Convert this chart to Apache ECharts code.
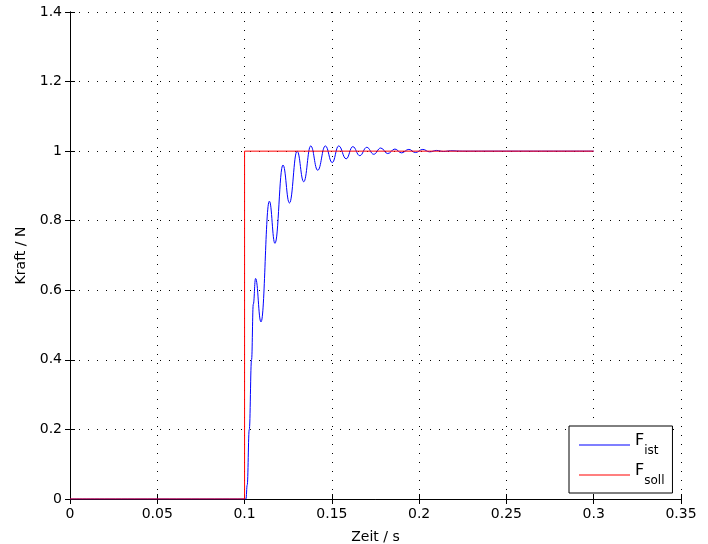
<!DOCTYPE html>
<html>
<head>
<meta charset="utf-8">
<script src="https://cdn.jsdelivr.net/npm/echarts@6/dist/echarts.min.js"></script>
<style>
  html, body { margin: 0; padding: 0; background: #fff; }
  #chart { width: 708px; height: 544px; }
</style>
</head>
<body>
<div id="chart"></div>
<script>
// Step response of the force controller: measured force vs. setpoint
var xTicks = [0, 0.05, 0.1, 0.15, 0.2, 0.25, 0.3, 0.35];
var yTicks = [0, 0.2, 0.4, 0.6, 0.8, 1, 1.2, 1.4];

// F_ist: measured force (time in s, force in N)
var istTime = [
  0, 0.1, 0.1008, 0.1015, 0.1027, 0.1040, 0.1050, 0.1063,
  0.1094, 0.1142, 0.1174, 0.1220, 0.1257, 0.1301, 0.1339,
  0.1379, 0.1419, 0.1463, 0.1502, 0.1539, 0.1582, 0.1620,
  0.1660, 0.1700, 0.1740, 0.1780, 0.1820, 0.1861, 0.1899,
  0.1941, 0.1979, 0.2021, 0.2060, 0.2100, 0.2140, 0.2180,
  0.2250, 0.2400, 0.2600, 0.2800, 0.3
];
var istForce = [
  0, 0, 0, 0.04, 0.20, 0.40, 0.56, 0.634,
  0.509, 0.856, 0.735, 0.960, 0.851, 1.000, 0.912,
  1.015, 0.945, 1.015, 0.967, 1.015, 0.978, 1.013,
  0.987, 1.011, 0.991, 1.009, 0.993, 1.006, 0.995,
  1.005, 0.996, 1.005, 0.998, 1.002, 0.999, 1.001,
  1.0, 1.0, 1.0, 1.0, 1.0
];

// F_soll: setpoint step at t = 0.1 s
var sollTime = [0, 0.1, 0.1, 0.3];
var sollForce = [0, 0, 1, 1];

function pairs(t, v) {
  return t.map(function (x, i) { return [x, v[i]]; });
}

var FONT = 'DejaVu Sans';
var chart = echarts.init(document.getElementById('chart'), null, { renderer: 'canvas' });

var boxLine = { show: true, lineStyle: { color: '#000', width: 1 } };
var inTick = { show: true, inside: true, length: 5, lineStyle: { color: '#000', width: 1 } };
var dotted = { show: true, lineStyle: { color: '#000', width: 1, type: [1, 8] } };

chart.setOption({
  animation: false,
  backgroundColor: '#fff',
  grid: { left: 70, top: 12, right: 27, bottom: 45, containLabel: false, outerBoundsMode: 'none' },
  xAxis: [
    {
      type: 'value', position: 'bottom', min: 0, max: 0.35, interval: 0.05,
      name: 'Zeit / s', nameLocation: 'middle', nameGap: 31,
      nameTextStyle: { fontFamily: FONT, fontSize: 14, color: '#000' },
      axisLine: boxLine, axisTick: inTick, splitLine: dotted,
      axisLabel: { fontFamily: FONT, fontSize: 14, color: '#000', margin: 8,
        formatter: function (v) { return String(+v.toFixed(2)); } }
    },
    {
      type: 'value', position: 'top', min: 0, max: 0.35, interval: 0.05,
      axisLine: boxLine, axisTick: inTick, splitLine: { show: false },
      axisLabel: { show: false }
    }
  ],
  yAxis: [
    {
      type: 'value', position: 'left', min: 0, max: 1.4, interval: 0.2,
      name: 'Kraft / N', nameLocation: 'middle', nameGap: 40, nameRotate: 90,
      nameTextStyle: { fontFamily: FONT, fontSize: 14, color: '#000' },
      axisLine: boxLine, axisTick: inTick, splitLine: dotted,
      axisLabel: { fontFamily: FONT, fontSize: 14, color: '#000', margin: 8,
        formatter: function (v) { return String(+v.toFixed(1)); } }
    },
    {
      type: 'value', position: 'right', min: 0, max: 1.4, interval: 0.2,
      axisLine: boxLine, axisTick: inTick, splitLine: { show: false },
      axisLabel: { show: false }
    }
  ],
  legend: {
    orient: 'vertical', left: 569, top: 426,
    padding: [7, 8, 6, 10], itemGap: 6,
    itemWidth: 51, itemHeight: 1, icon: 'rect',
    backgroundColor: '#fff', borderColor: '#000', borderWidth: 1, borderRadius: 0,
    data: ['F_ist', 'F_soll'],
    formatter: function (name) {
      var parts = name.split('_');
      return '{f|' + parts[0] + '}{s|' + parts[1] + '}';
    },
    textStyle: {
      fontFamily: FONT, color: '#000',
      rich: {
        f: { fontFamily: FONT, fontSize: 16, color: '#000', lineHeight: 24, verticalAlign: 'top' },
        s: { fontFamily: FONT, fontSize: 12, color: '#000', lineHeight: 24, verticalAlign: 'bottom' }
      }
    }
  },
  series: [
    {
      name: 'F_ist', type: 'line', xAxisIndex: 0, yAxisIndex: 0,
      data: pairs(istTime, istForce),
      showSymbol: false, symbol: 'none', smooth: 0.45, smoothMonotone: 'x',
      lineStyle: { color: '#0000ff', width: 1 }, itemStyle: { color: '#0000ff' },
      z: 3
    },
    {
      name: 'F_soll', type: 'line', xAxisIndex: 0, yAxisIndex: 0,
      data: pairs(sollTime, sollForce),
      showSymbol: false, symbol: 'none',
      lineStyle: { color: '#ff0000', width: 1 }, itemStyle: { color: '#ff0000' },
      z: 4
    }
  ]
});
</script>
</body>
</html>
